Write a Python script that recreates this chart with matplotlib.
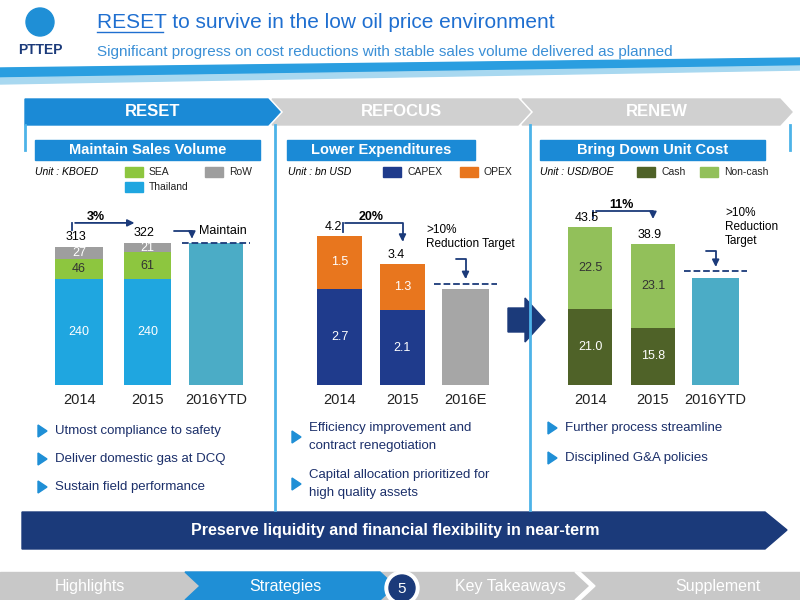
import matplotlib
matplotlib.use("Agg")
import matplotlib.pyplot as plt
from matplotlib.patches import Polygon, Rectangle, Circle

plt.rcParams['font.family'] = ['Liberation Sans', 'DejaVu Sans']

years1 = ["2014", "2015", "2016YTD"]
thailand = [240, 240]
sea = [46, 61]
row = [27, 21]
total1 = [313, 322]
maintain1 = 322

years2 = ["2014", "2015", "2016E"]
capex = [2.7, 2.1]
opex = [1.5, 1.3]
total2 = [4.2, 3.4]
target2 = 2.7

years3 = ["2014", "2015", "2016YTD"]
cash = [21.0, 15.8]
noncash = [22.5, 23.1]
total3 = [43.5, 38.9]
target3 = 29.5

fig = plt.figure(figsize=(8, 6), dpi=100)
bg = fig.add_axes([0, 0, 1, 1])
bg.set_xlim(0, 800); bg.set_ylim(600, 0); bg.axis('off')

NAVY = "#1b3a7a"

# header
bg.add_patch(Circle((40, 22), 14, color="#1f8fd6"))
bg.text(40, 50, "PTTEP", ha='center', va='center', fontsize=10, weight='bold', color=NAVY)
bg.text(97, 22, "RESET to survive in the low oil price environment", fontsize=15, color="#1f6fd0", va='center')
bg.plot([97, 163], [32, 32], color="#1f6fd0", lw=1)
bg.text(97, 52, "Significant progress on cost reductions with stable sales volume delivered as planned",
        fontsize=11, color="#3a8fd6", va='center')
bg.add_patch(Polygon([[0, 68], [800, 58], [800, 66], [0, 78]], color="#2a9ee0"))
bg.add_patch(Polygon([[0, 78], [800, 66], [800, 70], [0, 84]], color="#a8d8f0"))

def chev(x0, x1, y0, y1, col, txt, tcol):
    m = (y0 + y1) / 2
    bg.add_patch(Polygon([[x0, y0], [x1 - 12, y0], [x1, m], [x1 - 12, y1], [x0, y1], [x0 + 12 if x0 > 30 else x0, m]], color=col))
    bg.text((x0 + x1) / 2, m, txt, ha='center', va='center', fontsize=12, color=tcol, weight='bold')
chev(25, 280, 99, 125, "#1b8ad6", "RESET", "white")
chev(272, 530, 99, 125, "#d0d0d0", "REFOCUS", "white")
chev(522, 792, 99, 125, "#d0d0d0", "RENEW", "white")

for x in (275, 530):
    bg.plot([x, x], [125, 510], color="#4db3e8", lw=2)
bg.plot([25, 25], [125, 150], color="#4db3e8", lw=2)
bg.plot([790, 790], [125, 150], color="#4db3e8", lw=2)

for x0, x1, t in [(35, 260, "Maintain Sales Volume"), (287, 475, "Lower Expenditures"), (540, 765, "Bring Down Unit Cost")]:
    bg.add_patch(Rectangle((x0, 140), x1 - x0, 20, color="#1b8ad6"))
    bg.text((x0 + x1) / 2, 150, t, ha='center', va='center', fontsize=10.5, color='white', weight='bold')

def leg(x, y, c, t):
    bg.add_patch(Rectangle((x, y - 5), 18, 10, color=c))
    bg.text(x + 24, y, t, fontsize=7.5, va='center', color="#222222")
bg.text(35, 172, "Unit : KBOED", fontsize=7.5, style='italic', va='center')
leg(125, 172, "#8dc63f", "SEA"); leg(205, 172, "#9e9e9e", "RoW"); leg(125, 187, "#1fa6e0", "Thailand")
bg.text(288, 172, "Unit : bn USD", fontsize=7.5, style='italic', va='center')
leg(383, 172, "#1f3b8c", "CAPEX"); leg(460, 172, "#e8761e", "OPEX")
bg.text(540, 172, "Unit : USD/BOE", fontsize=7.5, style='italic', va='center')
leg(637, 172, "#4f6228", "Cash"); leg(700, 172, "#92c05a", "Non-cash")

def mkax(x0, x1, ymax):
    ax = fig.add_axes([x0 / 800, 1 - 385 / 600, (x1 - x0) / 800, 185 / 600])
    ax.set_xlim(-0.5, 2.5); ax.set_ylim(0, ymax)
    for s in ax.spines.values(): s.set_visible(False)
    ax.set_yticks([]); ax.tick_params(axis='x', length=0, labelsize=10.5, pad=6, labelcolor="#222222")
    return ax

arr = dict(arrowstyle='-|>', color=NAVY, lw=1.3)

# chart 1
ax1 = mkax(45, 250, 420)
x = [0, 1]
ax1.bar(x, thailand, 0.7, color="#1fa6e0")
ax1.bar(x, sea, 0.7, bottom=thailand, color="#8dc63f")
b2 = [t + s for t, s in zip(thailand, sea)]
ax1.bar(x, row, 0.7, bottom=b2, color="#9e9e9e")
ax1.bar([2], [maintain1], 0.8, color="#4bacc6")
ax1.set_xticks([0, 1, 2], years1)
for i in x:
    ax1.text(i, thailand[i] / 2, str(thailand[i]), ha='center', va='center', color='white', fontsize=9)
    ax1.text(i, thailand[i] + sea[i] / 2, str(sea[i]), ha='center', va='center', color='#333', fontsize=9)
    ax1.text(i, b2[i] + row[i] / 2, str(row[i]), ha='center', va='center', color='white', fontsize=9)
    ax1.text(i - 0.05, total1[i] + 10, str(total1[i]), ha='center', va='bottom', fontsize=9)
ax1.plot([1.5, 2.5], [maintain1, maintain1], ls='--', color=NAVY, lw=1.3)
ax1.plot([-0.1, -0.1], [352, 368], color=NAVY, lw=1.3)
ax1.annotate("", xy=(0.85, 368), xytext=(-0.1, 368), arrowprops=arr)
ax1.text(0.25, 375, "3%", fontsize=9, weight='bold', ha='center')
ax1.text(1.75, 350, "Maintain", fontsize=9, ha='left', va='center')
ax1.annotate("", xy=(1.65, maintain1 + 4), xytext=(1.35, 350), arrowprops=dict(arrowstyle='-|>', color=NAVY, lw=1.3,
             connectionstyle="angle,angleA=0,angleB=90"))

# chart 2
ax2 = mkax(308, 497, 5.2)
ax2.bar(x, capex, 0.7, color="#1f3b8c")
ax2.bar(x, opex, 0.7, bottom=capex, color="#e8761e")
ax2.bar([2], [target2], 0.75, color="#a6a6a6")
ax2.set_xticks([0, 1, 2], years2)
for i in x:
    ax2.text(i, capex[i] / 2, f"{capex[i]:.1f}", ha='center', va='center', color='white', fontsize=9)
    ax2.text(i, capex[i] + opex[i] / 2, f"{opex[i]:.1f}", ha='center', va='center', color='white', fontsize=9)
    ax2.text(i - 0.1, total2[i] + 0.08, f"{total2[i]:.1f}", ha='center', va='bottom', fontsize=9)
ax2.plot([1.5, 2.6], [target2 + 0.15] * 2, ls='--', color=NAVY, lw=1.3)
ax2.plot([0.05, 0.05], [4.3, 4.55], color=NAVY, lw=1.3)
ax2.annotate("", xy=(1.0, 3.95), xytext=(0.05, 4.55), arrowprops=dict(arrowstyle='-|>', color=NAVY, lw=1.3,
             connectionstyle="angle,angleA=0,angleB=90"))
ax2.text(0.5, 4.65, "20%", fontsize=9, weight='bold', ha='center')
ax2.text(1.38, 4.15, ">10%\nReduction Target", fontsize=8.5, va='center')
ax2.annotate("", xy=(2.0, target2 + 0.2), xytext=(1.8, 3.55), arrowprops=dict(arrowstyle='-|>', color=NAVY, lw=1.3,
             connectionstyle="angle,angleA=0,angleB=90"))

# chart 3
ax3 = mkax(559, 747, 51)
ax3.bar(x, cash, 0.7, color="#4f6228")
ax3.bar(x, noncash, 0.7, bottom=cash, color="#92c05a")
ax3.bar([2], [target3], 0.75, color="#4bacc6")
ax3.set_xticks([0, 1, 2], years3)
for i in x:
    ax3.text(i, cash[i] / 2, f"{cash[i]:.1f}", ha='center', va='center', color='white', fontsize=9)
    ax3.text(i, cash[i] + noncash[i] / 2, f"{noncash[i]:.1f}", ha='center', va='center', color='#333', fontsize=9)
    ax3.text(i - 0.05, total3[i] + 0.8, f"{total3[i]:.1f}", ha='center', va='bottom', fontsize=9)
ax3.plot([1.5, 2.6], [target3 + 2] * 2, ls='--', color=NAVY, lw=1.3)
ax3.plot([0.05, 0.05], [46, 48], color=NAVY, lw=1.3)
ax3.annotate("", xy=(1.0, 45), xytext=(0.05, 48), arrowprops=dict(arrowstyle='-|>', color=NAVY, lw=1.3,
             connectionstyle="angle,angleA=0,angleB=90"))
ax3.text(0.5, 48.8, "11%", fontsize=9, weight='bold', ha='center')
ax3.text(2.15, 43.5, ">10%\nReduction\nTarget", fontsize=8.5, va='center')
ax3.annotate("", xy=(2.0, target3 + 2.3), xytext=(1.8, 37), arrowprops=dict(arrowstyle='-|>', color=NAVY, lw=1.3,
             connectionstyle="angle,angleA=0,angleB=90"))

bg.add_patch(Polygon([[508, 308], [525, 308], [525, 298], [545, 320], [525, 342], [525, 332], [508, 332]], color=NAVY))

def bullet(x, y, t):
    bg.add_patch(Polygon([[x, y - 6], [x + 9, y], [x, y + 6]], color="#1f8fd6"))
    bg.text(x + 17, y, t, fontsize=9.5, va='center', color="#1b2f6a", linespacing=1.6)
bullet(38, 431, "Utmost compliance to safety")
bullet(38, 459, "Deliver domestic gas at DCQ")
bullet(38, 487, "Sustain field performance")
bullet(292, 437, "Efficiency improvement and\ncontract renegotiation")
bullet(292, 484, "Capital allocation prioritized for\nhigh quality assets")
bullet(548, 428, "Further process streamline")
bullet(548, 458, "Disciplined G&A policies")

bg.add_patch(Polygon([[22, 512], [765, 512], [787, 530], [765, 549], [22, 549]], color=NAVY))
bg.text(395, 530, "Preserve liquidity and financial flexibility in near-term", ha='center', va='center',
        fontsize=11.5, color='white', weight='bold')

bg.add_patch(Rectangle((0, 572), 800, 28, color="#c8c8c8"))
bg.add_patch(Polygon([[185, 572], [380, 572], [395, 586], [380, 600], [185, 600], [200, 586]], color="#1f8fd6"))
bg.add_patch(Polygon([[575, 572], [590, 586], [575, 600], [580, 600], [595, 586], [580, 572]], color="white"))
bg.text(90, 586, "Highlights", ha='center', va='center', fontsize=11.5, color='white')
bg.text(285, 586, "Strategies", ha='center', va='center', fontsize=11.5, color='white')
bg.add_patch(Circle((402, 588), 17, color="white"))
bg.add_patch(Circle((402, 588), 13, color=NAVY))
bg.text(402, 589, "5", ha='center', va='center', fontsize=11, color='white')
bg.text(510, 586, "Key Takeaways", ha='center', va='center', fontsize=11.5, color='white')
bg.text(718, 586, "Supplement", ha='center', va='center', fontsize=11.5, color='white')

fig.savefig("out.png", dpi=100)
